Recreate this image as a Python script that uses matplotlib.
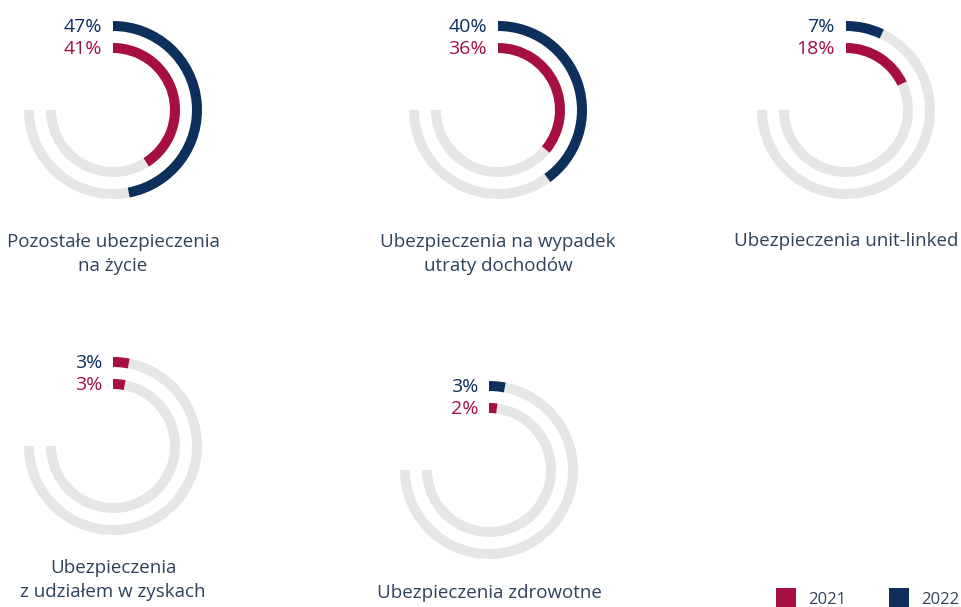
import matplotlib.pyplot as plt
from matplotlib.patches import Wedge, Rectangle

# dane
kategorie = ["Pozostałe ubezpieczenia\nna życie",
             "Ubezpieczenia na wypadek\nutraty dochodów",
             "Ubezpieczenia unit-linked",
             "Ubezpieczenia\nz udziałem w zyskach",
             "Ubezpieczenia zdrowotne"]
wart_2022 = [47, 40, 7, 3, 3]
wart_2021 = [41, 36, 18, 3, 2]
lata = ["2021", "2022"]

# kolory
NAVY = "#0c2f5c"
CRIMSON = "#a60f40"
GRAY = "#e6e6e6"
TXT = "#2e4259"

# polozenie wykresow (px)
W, H = 961, 607
srodki = [(113, 110), (498, 110), (846, 110), (113, 446), (489, 470)]
etykiety_y = [254, 254, 241, 580, 593]
# kolor zewnetrznego luku (w oryginale 4. wykres ma oba luki bordowe)
kolor_zew = [NAVY, NAVY, NAVY, CRIMSON, NAVY]

R_OUT, R_IN, SZER = 89, 67, 10


def luk(ax, c, r, pct, color):
    ax.add_patch(Wedge(c, r, 90 - pct * 3.6, 90, width=SZER,
                       facecolor=color, edgecolor='none'))


def main():
    fig = plt.figure(figsize=(W / 100, H / 100), dpi=100)
    ax = fig.add_axes([0, 0, 1, 1])
    ax.set_xlim(0, W)
    ax.set_ylim(0, H)
    ax.axis('off')

    for i, kat in enumerate(kategorie):
        cx, cy = srodki[i]
        c = (cx, H - cy)
        # tory
        for r in (R_OUT, R_IN):
            ax.add_patch(Wedge(c, r, 180, 90, width=SZER,
                               facecolor=GRAY, edgecolor='none'))
        luk(ax, c, R_OUT, wart_2022[i], kolor_zew[i])
        luk(ax, c, R_IN, wart_2021[i], CRIMSON)
        # procenty
        ax.text(cx - 11, H - cy + R_OUT - SZER / 2 - 1, f"{wart_2022[i]}%",
                ha='right', va='center', fontsize=14, fontweight='medium',
                color=NAVY, family='Open Sans')
        ax.text(cx - 11, H - cy + R_IN - SZER / 2 - 1, f"{wart_2021[i]}%",
                ha='right', va='center', fontsize=14, fontweight='medium',
                color=CRIMSON, family='Open Sans')
        # opis
        ax.text(cx, H - etykiety_y[i], kat, ha='center', va='center',
                fontsize=13.5, color=TXT, family='Open Sans',
                linespacing=1.4)

    # legenda
    for x, rok, kol in [(776, lata[0], CRIMSON), (889, lata[1], NAVY)]:
        ax.add_patch(Rectangle((x, H - 607), 20, 19, facecolor=kol,
                               edgecolor='none'))
        ax.text(x + 32, H - 600, rok, ha='left', va='center', fontsize=12,
                color=TXT, family='Open Sans')

    fig.savefig('out.png', dpi=100)


if __name__ == "__main__":
    main()
